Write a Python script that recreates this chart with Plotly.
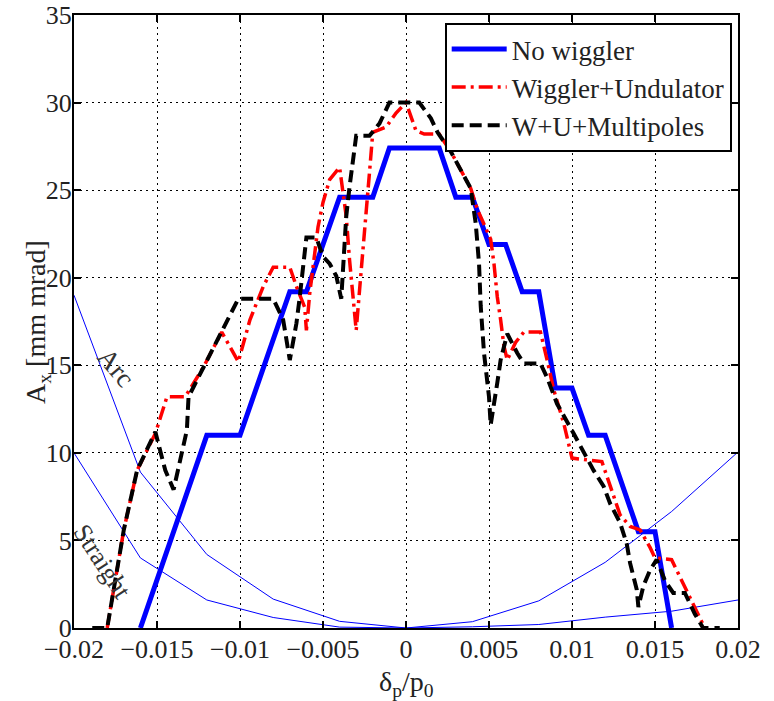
import plotly.graph_objects as go

# ---- data ----
x_nw = [-0.016, -0.012, -0.010, -0.007, -0.006, -0.004, -0.002, -0.001, 0.002, 0.003,
        0.004, 0.005, 0.006, 0.007, 0.008, 0.009, 0.010, 0.011, 0.012, 0.014, 0.015, 0.016]
y_nw = [0, 11.0, 11.0, 19.2, 19.2, 24.6, 24.6, 27.4, 27.4, 24.6,
        24.6, 21.9, 21.9, 19.2, 19.2, 13.7, 13.7, 11.0, 11.0, 5.5, 5.5, 0]

x_wu = [-0.0180, -0.0170, -0.0162, -0.0151, -0.0144, -0.0133, -0.0122, -0.0111, -0.0101,
        -0.0094, -0.0086, -0.0080, -0.0070, -0.0066, -0.0061, -0.0060, -0.0058, -0.0053,
        -0.0050, -0.0046, -0.0040, -0.0036, -0.0034, -0.0032, -0.0030, -0.0027, -0.0025,
        -0.0022, -0.0020, -0.0012, -0.0006, 0.0000, 0.0006, 0.0011, 0.0017, 0.0020,
        0.0027, 0.0039, 0.0043, 0.0051, 0.0053, 0.0055, 0.0057, 0.0059, 0.0061, 0.0066,
        0.0071, 0.0081, 0.0085, 0.0089, 0.0095, 0.0100, 0.0118, 0.0123, 0.0129, 0.0135,
        0.0141, 0.0147, 0.0150, 0.0160, 0.0167, 0.0173, 0.0180]
y_wu = [0.0, 5.6, 9.0, 11.1, 13.2, 13.2, 14.9, 16.9, 15.2,
        17.6, 19.5, 20.6, 20.6, 19.5, 18.3, 17.0, 19.1, 22.9,
        24.3, 25.6, 26.3, 23.5, 21.0, 18.7, 17.0, 20.4, 22.9,
        26.0, 28.3, 28.6, 29.4, 30.0, 28.4, 28.2, 28.2, 28.2,
        27.2, 25.1, 23.9, 22.2, 20.8, 18.9, 17.6, 16.1, 15.3, 16.3,
        16.9, 16.9, 15.3, 13.6, 11.7, 9.7, 9.5, 8.1, 6.45, 5.8,
        5.6, 4.6, 4.0, 3.9, 2.55, 1.4, 0.0]

x_wum = [-0.0189, -0.0180, -0.0170, -0.0162, -0.0151, -0.0145, -0.0140, -0.0136, -0.0132,
         -0.0131, -0.0122, -0.0112, -0.0101, -0.0080, -0.0074, -0.0070, -0.0066, -0.0064,
         -0.0062, -0.0060, -0.0054, -0.0050, -0.0046, -0.0042, -0.0039, -0.0037, -0.0036,
         -0.0034, -0.0030, -0.0022, -0.0016, -0.0010, 0.0008, 0.0015, 0.0019, 0.0027,
         0.0039, 0.0042, 0.0044, 0.0045, 0.0047, 0.0050, 0.0051, 0.0055, 0.0057, 0.0061,
         0.0067, 0.0071, 0.0081, 0.0085, 0.0091, 0.0101, 0.0107, 0.0113, 0.0119, 0.0123,
         0.0129, 0.0133, 0.0135, 0.0139, 0.0140, 0.0143, 0.0147, 0.0151, 0.0156, 0.0161,
         0.0168, 0.0174, 0.0179, 0.0189]
y_wum = [0.0, 0.0, 5.6, 9.0, 11.2, 9.0, 7.9, 9.6, 11.3,
         13.2, 14.9, 16.7, 18.8, 18.8, 17.6, 15.3, 17.4, 18.9,
         20.4, 22.3, 22.3, 21.2, 20.8, 20.1, 18.8, 21.6, 23.5,
         25.2, 28.1, 28.1, 28.8, 30.0, 30.0, 29.1, 28.3, 27.2,
         25.1, 23.1, 20.8, 18.4, 15.7, 13.2, 11.6, 14.0, 15.3, 16.8,
         15.7, 15.1, 15.1, 14.3, 12.8, 11.1, 10.0, 9.0, 8.1, 7.1,
         6.0, 4.8, 3.7, 2.2, 1.2, 2.4, 3.3, 3.9, 2.7, 2.0,
         2.0, 0.8, 0.0, 0.0]

x_curve = [-0.02, -0.016, -0.012, -0.008, -0.004, 0.0, 0.004, 0.008, 0.012, 0.016, 0.02]
y_arc = [19.0, 8.9, 4.2, 1.65, 0.38, 0.0, 0.36, 1.55, 3.75, 6.65, 10.05]
y_straight = [10.0, 4.0, 1.6, 0.6, 0.05, 0.0, 0.07, 0.2, 0.62, 0.96, 1.6]

x_ticks = [-0.02, -0.015, -0.01, -0.005, 0, 0.005, 0.01, 0.015, 0.02]
x_ticktext = ["\u22120.02", "\u22120.015", "\u22120.01", "\u22120.005", "0",
              "0.005", "0.01", "0.015", "0.02"]
y_ticks = [0, 5, 10, 15, 20, 25, 30, 35]
y_ticktext = ["0", "5", "10", "15", "20", "25", "30", "35"]

FONT = "Liberation Serif"
TXT = "#222222"

fig = go.Figure()
fig.add_trace(go.Scatter(x=x_curve, y=y_arc, mode="lines", showlegend=False,
                         line=dict(color="#0000ff", width=1)))
fig.add_trace(go.Scatter(x=x_curve, y=y_straight, mode="lines", showlegend=False,
                         line=dict(color="#0000ff", width=1)))
fig.add_trace(go.Scatter(x=x_nw, y=y_nw, mode="lines", name="No wiggler",
                         line=dict(color="#0000ff", width=5)))
fig.add_trace(go.Scatter(x=x_wu, y=y_wu, mode="lines", name="Wiggler+Undulator",
                         line=dict(color="#ff0000", width=3.5, dash="14px,5px,3px,5px")))
fig.add_trace(go.Scatter(x=x_wum, y=y_wum, mode="lines", name="W+U+Multipoles",
                         line=dict(color="#000000", width=4, dash="12px,6px")))

axis_common = dict(
    showline=True, linecolor="black", linewidth=2, mirror="ticks",
    ticks="inside", ticklen=7, tickwidth=2, tickcolor="black",
    showgrid=True, gridcolor="black", gridwidth=1, griddash="2px,4px",
    zeroline=False, automargin=False, ticklabeloverflow="allow",
    tickfont=dict(family=FONT, size=26, color=TXT),
)

fig.update_layout(
    width=774, height=701,
    margin=dict(l=74, r=36, t=15, b=73),
    paper_bgcolor="white", plot_bgcolor="white",
    font=dict(family=FONT, color=TXT),
    xaxis=dict(range=[-0.02, 0.02], tickvals=x_ticks, ticktext=x_ticktext,
               ticklabelstandoff=-3, **axis_common),
    yaxis=dict(range=[0, 35], tickvals=y_ticks, ticktext=y_ticktext,
               ticklabelstandoff=-5, **axis_common),
    legend=dict(x=0.9905, y=0.987, xanchor="right", yanchor="top",
                bgcolor="white", bordercolor="black", borderwidth=2,
                font=dict(family=FONT, size=27, color=TXT),
                itemwidth=55, tracegroupgap=0),
    showlegend=True,
)

# axis titles
fig.add_annotation(x=0.5, y=-0.09, xref="paper", yref="paper",
                   text="\u03b4<sub>p</sub>/p<sub>0</sub>", showarrow=False,
                   xanchor="center", yanchor="middle",
                   font=dict(family=FONT, size=28, color=TXT))
fig.add_annotation(x=-0.056, y=0.499, xref="paper", yref="paper",
                   text="A<sub>x</sub> [mm mrad]", showarrow=False, textangle=-90,
                   xanchor="center", yanchor="middle",
                   font=dict(family=FONT, size=28, color=TXT))

# curve labels
fig.add_annotation(x=-0.0175, y=14.9, xref="x", yref="y", text="Arc", showarrow=False,
                   textangle=50, font=dict(family=FONT, size=27, color="#333333"))
fig.add_annotation(x=-0.0183, y=3.8, xref="x", yref="y", text="Straight", showarrow=False,
                   textangle=57, font=dict(family=FONT, size=26, color="#333333"))

fig.write_html("out.html", config={"displayModeBar": False},
               post_script="document.body.style.margin='0';document.body.style.padding='0';")
